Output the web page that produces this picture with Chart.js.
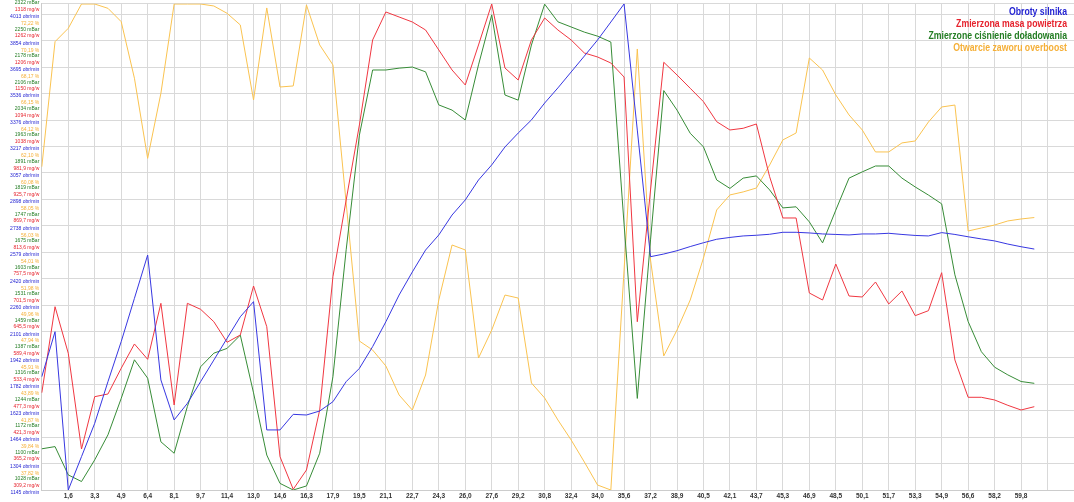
<!DOCTYPE html>
<html lang="pl">
<head>
<meta charset="utf-8">
<title>Log silnika</title>
<script src="https://cdn.jsdelivr.net/npm/chart.js@4.4.1/dist/chart.umd.min.js"></script>
<style>
  html, body { margin: 0; padding: 0; background: #fff; }
  #wrap { position: relative; width: 1074px; height: 502px; }
</style>
</head>
<body>
<div id="wrap"><canvas id="wykres"></canvas></div>
<script>
// Etykiety osi czasu [s] - opisana co druga próbka
const czasEtykiety = ["1,6", "3,3", "4,9", "6,4", "8,1", "9,7", "11,4", "13,0", "14,6", "16,3",
  "17,9", "19,5", "21,1", "22,7", "24,3", "26,0", "27,6", "29,2", "30,8", "32,4", "34,0", "35,6",
  "37,2", "38,9", "40,5", "42,1", "43,7", "45,3", "46,9", "48,5", "50,1", "51,7", "53,3", "54,9",
  "56,6", "58,2", "59,8"];

// Nazwy serii (legenda)
const nazwy = ["Obroty silnika", "Zmierzona masa powietrza", "Zmierzone ciśnienie doładowania", "Otwarcie zaworu overboost"];

// Obroty silnika [obr/min]
const obroty = [1828, 2099, 1145, 1346, 1547, 1798, 2039, 2300, 2561, 1808,
  1567, 1667, 1798, 1928, 2059, 2189, 2280, 1507, 1507, 1601,
  1597, 1621, 1677, 1798, 1878, 2009, 2159, 2320, 2459, 2591,
  2682, 2802, 2893, 3013, 3104, 3212, 3296, 3375, 3477, 3568,
  3664, 3760, 3857, 3965, 4074, 3314, 2551, 2567, 2587, 2612,
  2635, 2656, 2667, 2676, 2680, 2686, 2698, 2698, 2694, 2688,
  2685, 2682, 2688, 2688, 2692, 2685, 2679, 2676, 2696, 2685,
  2671, 2658, 2646, 2627, 2611, 2597];

// Zmierzona masa powietrza [mg/w]
const masaPowietrza = [515.4, 697.7, 599.0, 396.1, 507.0, 512.7, 567.2, 618.7, 586.2, 704.9,
  489.4, 704.9, 692.2, 665.9, 622.3, 637.8, 741.6, 655.3, 379.8, 310.7,
  351.6, 478.8, 761.3, 923.9, 1082.9, 1263.1, 1322.4, 1311.8, 1301.2, 1284.3,
  1241.9, 1199.5, 1167.7, 1252.5, 1339.4, 1203.7, 1178.2, 1263.1, 1309.7, 1284.3,
  1263.1, 1235.5, 1227.0, 1214.3, 1184.6, 665.9, 945.1, 1215.8, 1188.9, 1160.7,
  1132.3, 1089.9, 1072.3, 1075.9, 1085.0, 973.3, 885.8, 885.8, 726.8, 711.9,
  788.2, 720.4, 718.3, 750.1, 703.5, 731.0, 678.7, 689.3, 769.8, 584.8,
  505.7, 505.7, 500.0, 488.7, 478.8, 485.8];

// Zmierzone ciśnienie doładowania [mBar]
const cisnienie = [1140, 1146, 1069, 1051, 1110, 1178, 1277, 1382, 1332, 1159,
  1128, 1255, 1363, 1400, 1413, 1449, 1292, 1123, 1046, 1028,
  1039, 1128, 1336, 1681, 1993, 2170, 2170, 2175, 2178, 2165,
  2075, 2061, 2034, 2184, 2320, 2102, 2088, 2238, 2349, 2301,
  2287, 2273, 2262, 2246, 1751, 1277, 1708, 2114, 2061, 1998,
  1961, 1871, 1848, 1876, 1882, 1844, 1795, 1798, 1757, 1700,
  1789, 1876, 1893, 1909, 1909, 1876, 1852, 1830, 1806, 1613,
  1486, 1404, 1362, 1341, 1323, 1318];

// Otwarcie zaworu overboost [%]
const overboost = [60.54, 70.11, 71.13, 72.99, 72.99, 72.66, 71.64, 67.31, 61.18, 66.16,
  72.99, 72.99, 72.99, 72.84, 72.28, 71.39, 65.65, 72.69, 66.64, 66.72,
  72.92, 69.86, 68.33, 57.76, 47.20, 46.51, 45.29, 43.07, 41.92, 44.60,
  50.34, 54.55, 54.17, 45.90, 48.04, 50.72, 50.49, 43.99, 42.84, 41.16,
  39.63, 37.94, 36.18, 35.80, 52.64, 69.55, 53.40, 46.06, 48.04, 50.34,
  53.55, 57.23, 58.38, 58.61, 58.91, 60.67, 62.59, 63.12, 68.86, 67.94,
  66.03, 64.50, 63.35, 61.67, 61.67, 62.36, 62.51, 63.96, 65.11, 65.26,
  55.62, 55.85, 56.08, 56.39, 56.54, 56.65];

// Podziałki osi (od dołu)
const tickiObroty = [1145, 1304, 1464, 1623, 1782, 1942, 2101, 2260, 2420, 2579, 2738, 2898, 3057, 3217, 3376, 3536, 3695, 3854, 4013];
const tickiMasa = [309.2, 365.2, 421.3, 477.3, 533.4, 589.4, 645.5, 701.5, 757.5, 813.6, 869.7, 925.7, 981.9, 1038, 1094, 1150, 1206, 1262, 1318];
const tickiCisnienie = [1028, 1100, 1172, 1244, 1316, 1387, 1459, 1531, 1603, 1675, 1747, 1819, 1891, 1963, 2034, 2106, 2178, 2250, 2322];
const tickiOverboost = [37.82, 39.84, 41.87, 43.89, 45.91, 47.94, 49.96, 51.98, 54.01, 56.03, 58.05, 60.08, 62.10, 64.12, 66.15, 68.17, 70.19, 72.22];

const kolory = ["rgb(55,55,225)", "rgb(240,55,65)", "rgb(55,140,55)", "rgb(250,195,80)"];
const koloryTekstu = ["rgb(35,35,210)", "rgb(230,35,45)", "rgb(35,125,35)", "rgb(245,175,55)"];

// co druga próbka ma opis na osi X, reszta pusta
const kategorie = [];
for (let i = 0; i < 79; i++) {
  kategorie.push(i % 2 === 0 && i >= 2 && czasEtykiety[i / 2 - 1] ? czasEtykiety[i / 2 - 1] : "");
}

const FONT = '"Liberation Sans", Arial, sans-serif';
Chart.defaults.font.family = FONT;
const SZER_OSI = 41.8;

function format(v) {
  return v.toPrecision(4).replace(".", ",");
}

// wszystkie osie Y w jednej kolumnie, podpisy przesunięte w pionie
function osY(ticki, min, max, kolor, jednostka, przesuniecie, glowna) {
  return {
    type: "linear",
    position: "left",
    min: min,
    max: max,
    weight: glowna ? 10 : 0,
    afterBuildTicks: (s) => {
      s.ticks = ticki.map((v) => ({ value: v }));
      if (glowna) s.ticks.push({ value: max });
    },
    afterFit: (s) => {
      s.width = glowna ? SZER_OSI : 0;
      s.paddingTop = 0;
      s.paddingBottom = 0;
    },
    grid: { display: glowna, color: "#d9d9d9", drawTicks: false },
    border: { display: glowna, color: "#cccccc" },
    ticks: {
      autoSkip: false,
      padding: 2.5,
      labelOffset: przesuniecie,
      color: kolor,
      font: { size: 5, family: FONT },
      callback: (v, i) => (i < ticki.length ? format(ticki[i]) + " " + jednostka : ""),
    },
  };
}

// osie o zerowej szerokości: poszerz obszar przycinania podpisów w lewo
const kolumnaOsi = {
  id: "kolumnaOsi",
  afterLayout(chart) {
    ["yMasa", "yObr", "yOb"].forEach((id) => {
      const s = chart.scales[id];
      s.left = s.right - SZER_OSI;
    });
  },
};

const legenda = {
  id: "legenda",
  afterDraw(chart) {
    const ctx = chart.ctx;
    ctx.save();
    ctx.font = "bold 10.5px " + FONT;
    ctx.textAlign = "right";
    ctx.textBaseline = "middle";
    nazwy.forEach((n, i) => {
      ctx.save();
      ctx.translate(chart.chartArea.right - 7, 12 + i * 12);
      ctx.scale(0.83, 1);
      ctx.fillStyle = koloryTekstu[i];
      ctx.fillText(n, 0, 0);
      ctx.restore();
    });
    ctx.restore();
  },
};

new Chart(document.getElementById("wykres"), {
  type: "line",
  data: {
    labels: kategorie,
    datasets: [
      { label: nazwy[0], data: obroty, borderColor: kolory[0], yAxisID: "yObr" },
      { label: nazwy[1], data: masaPowietrza, borderColor: kolory[1], yAxisID: "yMasa" },
      { label: nazwy[2], data: cisnienie, borderColor: kolory[2], yAxisID: "yCis" },
      { label: nazwy[3], data: overboost, borderColor: kolory[3], yAxisID: "yOb" },
    ],
  },
  options: {
    responsive: true,
    maintainAspectRatio: false,
    animation: false,
    layout: { padding: { top: 3.5, left: 0, right: 0, bottom: 0 } },
    elements: {
      line: { borderWidth: 1, tension: 0, fill: false },
      point: { radius: 0 },
    },
    plugins: { legend: { display: false }, tooltip: { enabled: false } },
    scales: {
      x: {
        type: "category",
        afterFit: (s) => {
          s.height = 12;
          s.paddingLeft = 0;
          s.paddingRight = 0;
        },
        grid: {
          color: (c) => (c.index % 2 === 0 ? "#d9d9d9" : "rgba(0,0,0,0)"),
          drawTicks: false,
        },
        border: { color: "#cccccc" },
        ticks: {
          autoSkip: false,
          maxRotation: 0,
          minRotation: 0,
          padding: 2,
          color: "#333",
          font: { size: 6.5, weight: "bold", family: FONT },
        },
      },
      yCis: osY(tickiCisnienie, 1028, 2350.8, koloryTekstu[2], "mBar", -11.2, true),
      yMasa: osY(tickiMasa, 309.2, 1340.4, koloryTekstu[1], "mg/w", -4.5, false),
      yObr: osY(tickiObroty, 1145, 4076.7, koloryTekstu[0], "obr/min", 2.8, false),
      yOb: osY(tickiOverboost, 35.8, 73.03, koloryTekstu[3], "%", 9.6, false),
    },
  },
  plugins: [kolumnaOsi, legenda],
});
</script>
</body>
</html>
